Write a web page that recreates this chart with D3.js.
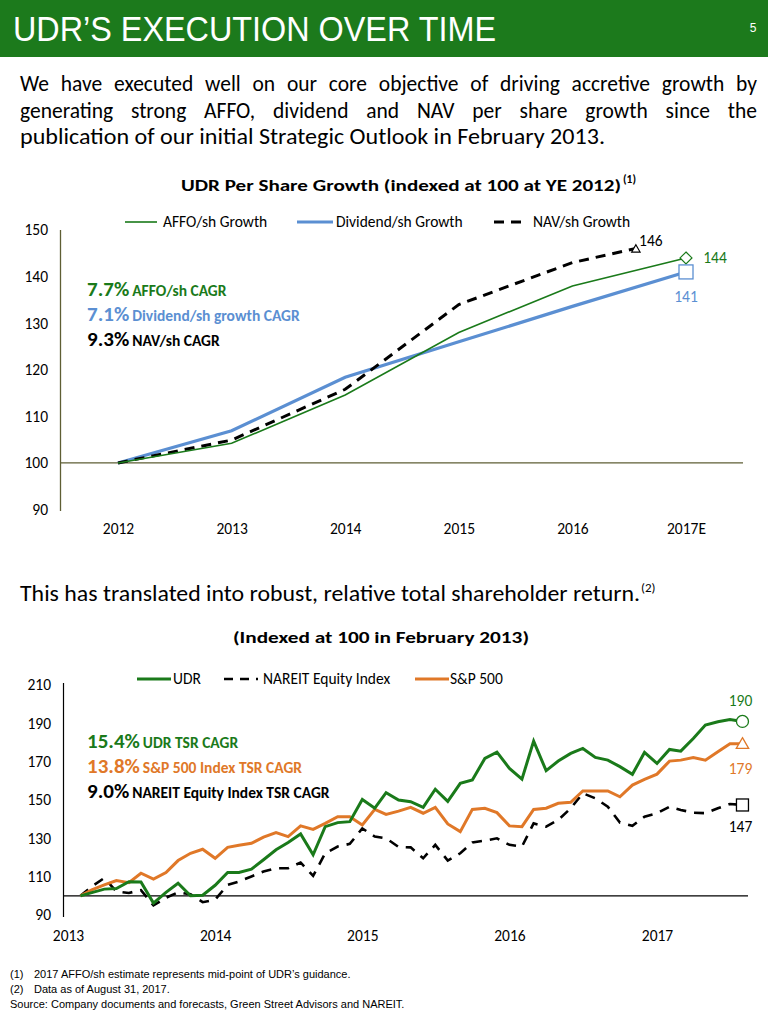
<!DOCTYPE html>
<html><head><meta charset="utf-8">
<script src="https://cdn.jsdelivr.net/npm/d3@7"></script>
<style>
html,body{margin:0;padding:0;background:#fff;}
svg{display:block;}
</style></head>
<body>
<svg id="chart" width="768" height="1018"></svg>
<script>
// ---------- DATA ----------
const topYears = [2012, 2013, 2014, 2015, 2016, 2017];
const topTickLabels = ["2012", "2013", "2014", "2015", "2016", "2017E"];
const affoValues = [100, 104.2, 114.6, 128, 138, 144];
const dividendValues = [100, 106.9, 118.4, 126, 133.6, 141];
const navYears = [2012, 2013, 2014, 2015, 2016, 2016.55];
const navValues = [100, 104.9, 115.8, 134, 143, 146];
const topYTicks = [90, 100, 110, 120, 130, 140, 150];
const topEndLabels = ["144", "141", "146"];

const tsrStart = "2013-02";   // first month of monthly series
const udrValues = [100, 101.7, 103.5, 103.8, 107.4, 107.2, 96.2, 101.8, 106.6, 100, 100.3, 105.5,
  112.2, 112.2, 113.9, 118.8, 124, 127.8, 132.3, 121.4, 136.1, 138.2, 138.7, 150.3,
  145.7, 153.8, 150, 149.1, 146.2, 155.6, 149.3, 158.7, 160.4, 171.7, 175, 166.5,
  160.9, 180.7, 165.3, 170.3, 174.3, 176.9, 172.2, 170.8, 167.4, 163.4, 174.8, 169.1,
  176.4, 175.5, 182.1, 189.1, 190.8, 192, 191];
const spValues = [100, 103.1, 105.7, 108, 106.9, 111.8, 108.7, 112.2, 118.4, 122.2, 124.3, 119.6,
  125.3, 126.4, 127.4, 130.6, 133, 130.9, 136.5, 134.7, 137.8, 141.3, 141.3, 137,
  145.1, 142.5, 144.2, 146.2, 143.1, 146.2, 137.5, 133.5, 145.1, 145.7, 143.4, 136.5,
  136.1, 145.1, 145.7, 148.3, 148.8, 154.7, 154.7, 154.7, 151.7, 157.8, 160.8, 163.5,
  170.3, 170.8, 172.2, 170.8, 175.2, 179.3, 179.3];
const nareitValues = [100, 104.9, 109.3, 102.3, 101.5, 103, 95, 99, 101.8, 100.8, 96.7, 98,
  105.7, 107.5, 110.1, 112.7, 114.4, 114.4, 117.4, 110.4, 122.2, 125.7, 127.1, 135.2,
  130.9, 130, 125.5, 125.3, 119.6, 126.6, 118.4, 122.2, 127.8, 128.8, 130, 126.6,
  125.7, 137.8, 136.1, 139.6, 145.7, 153.5, 150.9, 146.5, 138.2, 136.5, 141.3, 143.1,
  146.5, 144.8, 143.4, 143.1, 145.7, 147.9, 147.4];
const bottomYTicks = [90, 110, 130, 150, 170, 190, 210];
const bottomTickYears = [2013, 2014, 2015, 2016, 2017];
const bottomEndLabels = ["190", "179", "147"];

// ---------- STYLE ----------
const GREEN = "#1a7a1a", BLUE = "#5b8fd2", ORANGE = "#e07828", HEAD = "#1c7a1c", OLIVE = "#5e5e34";
const CAL = "Carlito, Calibri, Lato, 'Open Sans', sans-serif";
const ARIAL = "'Liberation Sans', Arial, sans-serif";
const TICK_FS = 15.5, LEG_FS = 15.5, END_FS = 15.5;

const svg = d3.select("#chart");

function txt(x, y, s, o = {}) {
  const t = svg.append("text").attr("x", x).attr("y", y).text(s)
    .attr("font-family", o.ff || CAL).attr("font-size", o.fs || 13)
    .attr("fill", o.fill || "#000").attr("font-weight", o.fw || "normal")
    .attr("text-anchor", o.anchor || "start");
  if (o.len) t.attr("textLength", o.len).attr("lengthAdjust", o.adj || "spacingAndGlyphs");
  return t;
}
// justified line: stretch word spacing to reach width
function justify(x, y, s, width, fs) {
  const t = txt(x, y, s, {fs: fs});
  const natural = t.node().getComputedTextLength();
  const spaces = (s.match(/ /g) || []).length;
  if (spaces > 0) t.attr("word-spacing", (width - natural) / spaces);
  return t;
}

// ---------- HEADER ----------
svg.append("rect").attr("x", 0).attr("y", 0).attr("width", 768).attr("height", 57).attr("fill", HEAD);
txt(13, 41, "UDR’S EXECUTION OVER TIME", {ff: "'Liberation Sans Narrow', 'Arial Narrow', 'Liberation Sans', sans-serif", fs: 35, fill: "#fff", len: 483});
txt(753, 32, "5", {ff: ARIAL, fs: 12, fill: "#fff", anchor: "middle"});

justify(20, 91, "We have executed well on our core objective of driving accretive growth by", 737, 21.5);
justify(20, 118, "generating strong AFFO, dividend and NAV per share growth since the", 737, 21.5);
txt(20, 144, "publication of our initial Strategic Outlook in February 2013.", {fs: 21.5, len: 585});

// ---------- TOP CHART ----------
{
  txt(181, 191, "UDR Per Share Growth  (indexed at 100 at YE 2012)", {fs: 16.5, fw: "bold", len: 440});
  txt(623, 183, "(1)", {fs: 11.5, fw: "bold"});

  const x = d3.scaleLinear().domain([2012, 2017]).range([118, 686]);
  const y = d3.scaleLinear().domain([90, 150]).range([509.5, 230]);

  svg.append("line").attr("x1", 60.5).attr("x2", 60.5).attr("y1", 230).attr("y2", 511)
    .attr("stroke", OLIVE).attr("stroke-width", 1.3);
  const ya = svg.append("g").attr("transform", "translate(60,0)")
    .call(d3.axisLeft(y).tickValues(topYTicks).tickSize(0).tickPadding(12));
  ya.select(".domain").remove();
  ya.selectAll("text").attr("font-family", CAL).attr("font-size", TICK_FS).attr("fill", "#000");
  svg.append("line").attr("x1", 60).attr("x2", 743).attr("y1", y(100)).attr("y2", y(100))
    .attr("stroke", OLIVE).attr("stroke-width", 1.3);
  const xa = svg.append("g").attr("transform", "translate(0,511)")
    .call(d3.axisBottom(x).tickValues(topYears).tickFormat((d, i) => topTickLabels[i]).tickSize(0).tickPadding(12));
  xa.select(".domain").remove();
  xa.selectAll("text").attr("font-family", CAL).attr("font-size", TICK_FS).attr("fill", "#000");

  const line = d3.line().x(d => x(d[0])).y(d => y(d[1]));
  const navPts = navYears.map((v, i) => [v, navValues[i]]);
  const affoPts = topYears.map((v, i) => [v, affoValues[i]]);
  const divPts = topYears.map((v, i) => [v, dividendValues[i]]);

  svg.append("path").attr("d", line(divPts)).attr("fill", "none").attr("stroke", BLUE).attr("stroke-width", 3.2);
  svg.append("path").attr("d", line(navPts)).attr("fill", "none").attr("stroke", "#000").attr("stroke-width", 3).attr("stroke-dasharray", "10,7");
  svg.append("path").attr("d", line(affoPts)).attr("fill", "none").attr("stroke", GREEN).attr("stroke-width", 1.6);

  const aEnd = affoPts[affoPts.length - 1], dEnd = divPts[divPts.length - 1], nEnd = navPts[navPts.length - 1];
  svg.append("path").attr("d", d3.symbol(d3.symbolDiamond2, 90)())
    .attr("transform", `translate(${x(aEnd[0])},${y(aEnd[1])})`).attr("fill", "#fff").attr("stroke", GREEN).attr("stroke-width", 1.2);
  svg.append("rect").attr("x", x(dEnd[0]) - 7).attr("y", y(dEnd[1]) - 7).attr("width", 14).attr("height", 14)
    .attr("fill", "#fff").attr("stroke", BLUE).attr("stroke-width", 1.3);
  svg.append("path").attr("d", d3.symbol(d3.symbolTriangle2, 50)())
    .attr("transform", `translate(${x(nEnd[0]) + 1},${y(nEnd[1]) + 1})`).attr("fill", "#fff").attr("stroke", "#000").attr("stroke-width", 1.2);

  txt(x(aEnd[0]) + 29, y(aEnd[1]) + 5, topEndLabels[0], {fs: END_FS, fill: GREEN, anchor: "middle"});
  txt(x(dEnd[0]), y(dEnd[1]) + 30, topEndLabels[1], {fs: END_FS, fill: BLUE, anchor: "middle"});
  txt(x(nEnd[0]) + 16, y(nEnd[1]) - 3, topEndLabels[2], {fs: END_FS, fill: "#000", anchor: "middle"});

  const lg = 222;
  svg.append("line").attr("x1", 125).attr("x2", 157).attr("y1", lg).attr("y2", lg).attr("stroke", GREEN).attr("stroke-width", 1.6);
  txt(163, lg + 5, "AFFO/sh Growth", {fs: LEG_FS});
  svg.append("line").attr("x1", 297).attr("x2", 333).attr("y1", lg).attr("y2", lg).attr("stroke", BLUE).attr("stroke-width", 3.2);
  txt(336, lg + 5, "Dividend/sh Growth", {fs: LEG_FS});
  svg.append("line").attr("x1", 494).attr("x2", 528).attr("y1", lg).attr("y2", lg).attr("stroke", "#000").attr("stroke-width", 3).attr("stroke-dasharray", "10,7");
  txt(533, lg + 5, "NAV/sh Growth", {fs: LEG_FS});

  const cg = [["7.7%", "AFFO/sh CAGR", GREEN, 296], ["7.1%", "Dividend/sh growth CAGR", BLUE, 321], ["9.3%", "NAV/sh CAGR", "#000", 346]];
  cg.forEach(c => {
    const t = svg.append("text").attr("x", 87).attr("y", c[3]).attr("font-family", CAL).attr("font-weight", "bold").attr("fill", c[2]);
    t.append("tspan").attr("font-size", 21).text(c[0]);
    t.append("tspan").attr("font-size", 15.5).attr("dx", 3).text(c[1]);
  });
}

// ---------- MIDDLE TEXT ----------
txt(20, 601, "This has translated into robust, relative total shareholder return.", {fs: 21.5, len: 620});
txt(641, 592, "(2)", {fs: 13});

// ---------- BOTTOM CHART ----------
{
  txt(233, 643, "(Indexed at 100 in February 2013)", {fs: 16.5, fw: "bold", len: 296});

  const parse = d3.timeParse("%Y-%m");
  const start = parse(tsrStart);
  const dates = udrValues.map((d, i) => d3.timeMonth.offset(start, i));
  const x = d3.scaleTime().domain([new Date(2013, 0, 1), new Date(2017, 0, 1)]).range([68, 657]);
  const y = d3.scaleLinear().domain([90, 210]).range([915, 685]);

  svg.append("line").attr("x1", 63.5).attr("x2", 63.5).attr("y1", 683).attr("y2", 917).attr("stroke", "#000").attr("stroke-width", 1.2);
  const ya = svg.append("g").attr("transform", "translate(63,0)")
    .call(d3.axisLeft(y).tickValues(bottomYTicks).tickSize(0).tickPadding(12));
  ya.select(".domain").remove();
  ya.selectAll("text").attr("font-family", CAL).attr("font-size", TICK_FS).attr("fill", "#000");
  svg.append("line").attr("x1", 63).attr("x2", 748).attr("y1", y(100)).attr("y2", y(100)).attr("stroke", "#000").attr("stroke-width", 1.2);

  const xa = svg.append("g").attr("transform", "translate(0,918)")
    .call(d3.axisBottom(x).tickValues(bottomTickYears.map(yr => new Date(yr, 0, 1))).tickFormat(d3.timeFormat("%Y")).tickSize(0).tickPadding(12));
  xa.select(".domain").remove();
  xa.selectAll("text").attr("font-family", CAL).attr("font-size", TICK_FS).attr("fill", "#000");

  const line = d3.line().x((d, i) => x(dates[i])).y(d => y(d));
  svg.append("path").attr("d", line(nareitValues)).attr("fill", "none").attr("stroke", "#000").attr("stroke-width", 2.6).attr("stroke-dasharray", "10,8");
  svg.append("path").attr("d", line(spValues)).attr("fill", "none").attr("stroke", ORANGE).attr("stroke-width", 3);
  svg.append("path").attr("d", line(udrValues)).attr("fill", "none").attr("stroke", GREEN).attr("stroke-width", 3);

  const n = dates.length - 1;
  const ex = x(dates[n]);
  svg.append("circle").attr("cx", ex).attr("cy", y(udrValues[n])).attr("r", 6).attr("fill", "#fff").attr("stroke", GREEN).attr("stroke-width", 1.3);
  svg.append("path").attr("d", d3.symbol(d3.symbolTriangle2, 110)())
    .attr("transform", `translate(${ex},${y(spValues[n]) + 1})`).attr("fill", "#fff").attr("stroke", ORANGE).attr("stroke-width", 1.3);
  svg.append("rect").attr("x", ex - 6).attr("y", y(nareitValues[n]) - 6).attr("width", 12).attr("height", 12).attr("fill", "#fff").attr("stroke", "#000").attr("stroke-width", 1.3);

  txt(ex - 2, y(udrValues[n]) - 15, bottomEndLabels[0], {fs: END_FS, fill: GREEN, anchor: "middle"});
  txt(ex - 2, y(spValues[n]) + 30, bottomEndLabels[1], {fs: END_FS, fill: ORANGE, anchor: "middle"});
  txt(ex - 2, y(nareitValues[n]) + 27, bottomEndLabels[2], {fs: END_FS, fill: "#000", anchor: "middle"});

  const lg = 679;
  svg.append("line").attr("x1", 137).attr("x2", 171).attr("y1", lg).attr("y2", lg).attr("stroke", GREEN).attr("stroke-width", 3);
  txt(173, lg + 5, "UDR", {fs: LEG_FS});
  svg.append("line").attr("x1", 224).attr("x2", 258).attr("y1", lg).attr("y2", lg).attr("stroke", "#000").attr("stroke-width", 2.6).attr("stroke-dasharray", "9,7");
  txt(263, lg + 5, "NAREIT Equity Index", {fs: LEG_FS});
  svg.append("line").attr("x1", 415).attr("x2", 449).attr("y1", lg).attr("y2", lg).attr("stroke", ORANGE).attr("stroke-width", 3);
  txt(450, lg + 5, "S&P 500", {fs: LEG_FS});

  const cg = [["15.4%", "UDR TSR CAGR", GREEN, 748], ["13.8%", "S&P 500 Index TSR CAGR", ORANGE, 773], ["9.0%", "NAREIT Equity Index TSR CAGR", "#000", 798]];
  cg.forEach(c => {
    const t = svg.append("text").attr("x", 87).attr("y", c[3]).attr("font-family", CAL).attr("font-weight", "bold").attr("fill", c[2]);
    t.append("tspan").attr("font-size", 21).text(c[0]);
    t.append("tspan").attr("font-size", 15.5).attr("dx", 3).text(c[1]);
  });
}

// ---------- FOOTNOTES ----------
txt(10, 978, "(1)", {ff: ARIAL, fs: 11});
txt(34, 978, "2017 AFFO/sh estimate represents mid-point of UDR’s guidance.", {ff: ARIAL, fs: 11});
txt(10, 993, "(2)", {ff: ARIAL, fs: 11});
txt(34, 993, "Data as of August 31, 2017.", {ff: ARIAL, fs: 11});
txt(10, 1008, "Source:  Company documents and forecasts, Green Street Advisors and NAREIT.", {ff: ARIAL, fs: 11});
</script>
</body></html>
